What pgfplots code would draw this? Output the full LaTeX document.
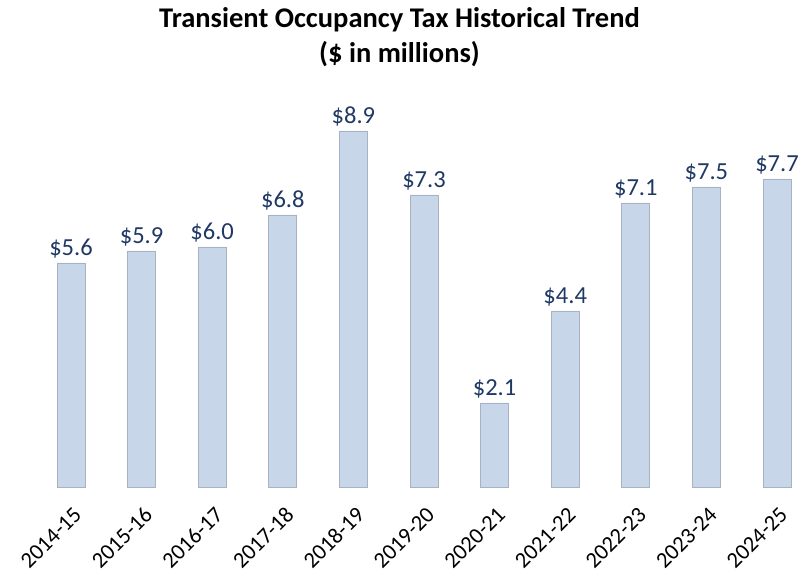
\documentclass[border=0pt]{standalone}
\usepackage{fontspec}
\setmainfont{Carlito}
\usepackage{pgfplots}
\pgfplotsset{compat=1.18}
\definecolor{barfill}{HTML}{C7D7E9}
\definecolor{barline}{HTML}{A9B3BF}
\definecolor{lbl}{HTML}{1F3864}

\begin{document}
\begin{tikzpicture}
\useasboundingbox (-35.7bp,-88bp) rectangle (763.3bp,487bp);
\begin{axis}[
    x=70.6bp, y=40bp,
    xmin=-0.5, xmax=10.3,
    ymin=0, ymax=9.8,
    ybar,
    bar width=28bp,
    hide y axis,
    axis x line*=bottom,
    axis line style={draw=none},
    xtick=data,
    major tick length=0pt,
    xticklabels={2014-15,2015-16,2016-17,2017-18,2018-19,2019-20,2020-21,2021-22,2022-23,2023-24,2024-25},
    xticklabel style={rotate=45, anchor=north east, font=\fontsize{22.5bp}{24bp}\selectfont, inner sep=1pt, yshift=-13bp, xshift=-11bp},
    /pgf/number format/assume math mode=true,
    nodes near coords={\$\pgfmathprintnumber[fixed,fixed zerofill,precision=1]{\pgfplotspointmeta}},
    nodes near coords style={font=\fontsize{24.5bp}{26bp}\selectfont, text=lbl, inner sep=4bp},
    clip=false,
]
\addplot[fill=barfill, draw=barline, line width=0.8bp] coordinates {
    (0,5.6) (1,5.9) (2,6.0) (3,6.8) (4,8.9) (5,7.3) (6,2.1) (7,4.4) (8,7.1) (9,7.5) (10,7.7)
};
\end{axis}
\node[align=center, font=\bfseries\fontsize{28.5bp}{35bp}\selectfont] at (363.8bp, 450bp)
    {Transient Occupancy Tax Historical Trend\\(\$ in millions)};
\end{tikzpicture}
\end{document}
